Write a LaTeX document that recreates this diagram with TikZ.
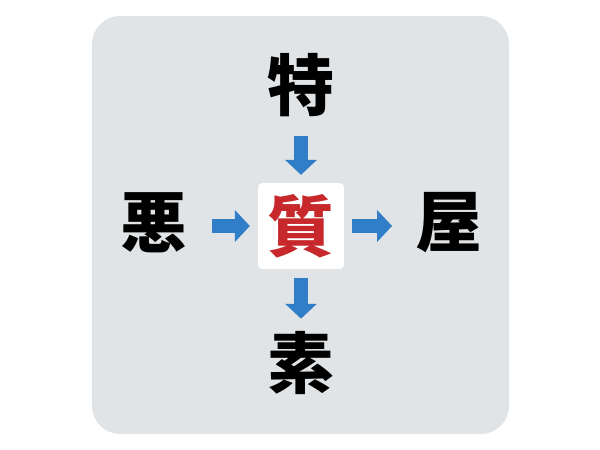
\documentclass[tikz,border=0pt]{standalone}
\usepackage{fontspec}
\newfontfamily\cjk{Noto Sans CJK JP}[BoldFont={Noto Sans CJK JP Black}]
\usetikzlibrary{arrows.meta}
\definecolor{panelgray}{HTML}{E1E4E6}
\definecolor{arrowblue}{HTML}{2F7EC7}
\definecolor{kanjired}{HTML}{C7282B}
\begin{document}
\begin{tikzpicture}[x=0.02cm,y=-0.02cm,
  kanji/.style={font=\cjk\bfseries\fontsize{38}{38}\selectfont,inner sep=0pt,minimum size=34pt},
  link/.style={arrowblue,line width=8.5pt,-{Triangle[width=17.6pt,length=8.5pt]}}]
  \useasboundingbox (0,0) rectangle (600,450);
  \fill[panelgray,rounded corners=16pt] (92,16) rectangle (509,434);

  \node[kanji,fill=white,rounded corners=2.3pt,minimum size=48.8pt,text=kanjired] (q) at (301,226) {質};
  \node[kanji] (top) at (301,85) {特};
  \node[kanji] (left) at (154,223) {悪};
  \node[kanji] (right) at (449,223) {屋};
  \node[kanji] (bottom) at (301,363) {素};

  \draw[link,shorten <=11pt,shorten >=4.5pt] (top) -- (q);
  \draw[link,shorten <=13.8pt,shorten >=4.5pt] (left.east |- q) -- (q);
  \draw[link,shorten <=4.5pt,shorten >=13.2pt] (q) -- (right.west |- q);
  \draw[link,shorten <=5.1pt,shorten >=7pt] (q) -- (bottom);
\end{tikzpicture}
\end{document}
